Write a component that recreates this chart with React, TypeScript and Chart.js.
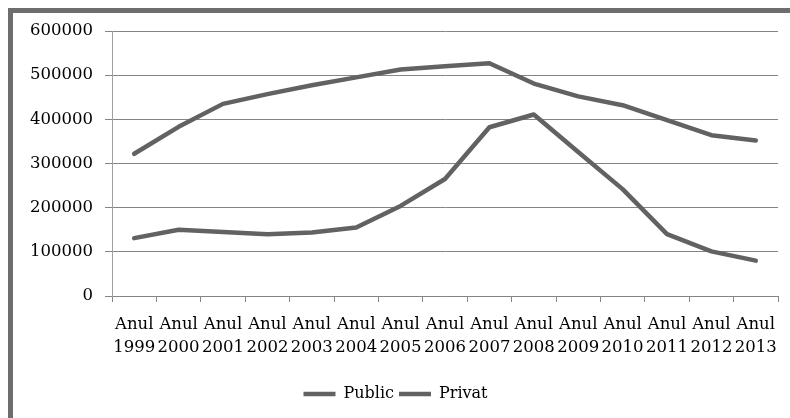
import React, { useEffect, useRef } from "react";
import { Chart, registerables } from "chart.js";

Chart.register(...registerables);

const categories: string[][] = [
  ["Anul", "1999"], ["Anul", "2000"], ["Anul", "2001"], ["Anul", "2002"], ["Anul", "2003"],
  ["Anul", "2004"], ["Anul", "2005"], ["Anul", "2006"], ["Anul", "2007"], ["Anul", "2008"],
  ["Anul", "2009"], ["Anul", "2010"], ["Anul", "2011"], ["Anul", "2012"], ["Anul", "2013"],
];

const publicValues: number[] = [
  322000, 383000, 435000, 457000, 477000, 495000, 513000, 520000, 527000, 481000,
  452000, 432000, 398000, 364000, 352000,
];

const privatValues: number[] = [
  131000, 150000, 145000, 140000, 144000, 155000, 204000, 265000, 382000, 411000,
  326000, 242000, 140000, 101000, 80000,
];

const yTicks: number[] = [0, 100000, 200000, 300000, 400000, 500000, 600000];

const LINE = "#626262";
const GRID = "#858585";
const FONT = "'DejaVu Serif', serif";

export default function App() {
  const ref = useRef<HTMLCanvasElement | null>(null);

  useEffect(() => {
    if (!ref.current) return;
    const chart = new Chart(ref.current, {
      type: "line",
      data: {
        labels: categories,
        datasets: [
          {
            label: "Public",
            data: publicValues,
            borderColor: LINE,
            backgroundColor: LINE,
            borderWidth: 4.5,
            pointRadius: 0,
            tension: 0,
            borderCapStyle: "round",
            borderJoinStyle: "round",
          },
          {
            label: "Privat",
            data: privatValues,
            borderColor: LINE,
            backgroundColor: LINE,
            borderWidth: 4.5,
            pointRadius: 0,
            tension: 0,
            borderCapStyle: "round",
            borderJoinStyle: "round",
          },
        ],
      },
      options: {
        animation: false,
        responsive: false,
        maintainAspectRatio: false,
        layout: { padding: { top: 18, right: 12, bottom: 6, left: 0 } },
        plugins: {
          tooltip: { enabled: false },
          legend: {
            position: "bottom",
            labels: {
              usePointStyle: true,
              pointStyle: "line",
              pointStyleWidth: 32,
              padding: 5,
              color: "#000",
              font: { family: FONT, size: 16 },
            },
          },
        },
        scales: {
          x: {
            offset: true,
            grid: {
              offset: true,
              drawOnChartArea: false,
              drawTicks: true,
              tickLength: 6,
              color: GRID,
            },
            border: { color: GRID, width: 1 },
            ticks: {
              autoSkip: false,
              maxRotation: 0,
              minRotation: 0,
              padding: 12,
              color: "#000",
              font: { family: FONT, size: 16.5, lineHeight: 1.35 },
            },
            afterFit: (s: any) => {
              s.height = 85;
              s.paddingLeft = 0;
              s.paddingRight = 0;
            },
          },
          y: {
            min: 0,
            max: 600000,
            afterBuildTicks: (s: any) => {
              s.ticks = yTicks.map((v) => ({ value: v }));
            },
            grid: { color: GRID, tickLength: 7, lineWidth: 1 },
            border: { color: "#a0a0a0", width: 1 },
            ticks: {
              padding: 12,
              color: "#000",
              font: { family: FONT, size: 16.5 },
              callback: (v: any) => String(v),
            },
            afterFit: (s: any) => {
              s.width = 99;
              s.paddingTop = 0;
              s.paddingBottom = 0;
            },
          },
        },
      },
    });
    return () => chart.destroy();
  }, []);

  return (
    <div
      style={{
        position: "absolute",
        left: 8,
        top: 8,
        width: 782,
        height: 410,
        boxSizing: "border-box",
        borderTop: "5px solid #6e6e6e",
        borderLeft: "5px solid #6e6e6e",
        background: "#fff",
        overflow: "hidden",
      }}
    >
      <canvas ref={ref} width={777} height={405} style={{ display: "block" }} />
    </div>
  );
}
